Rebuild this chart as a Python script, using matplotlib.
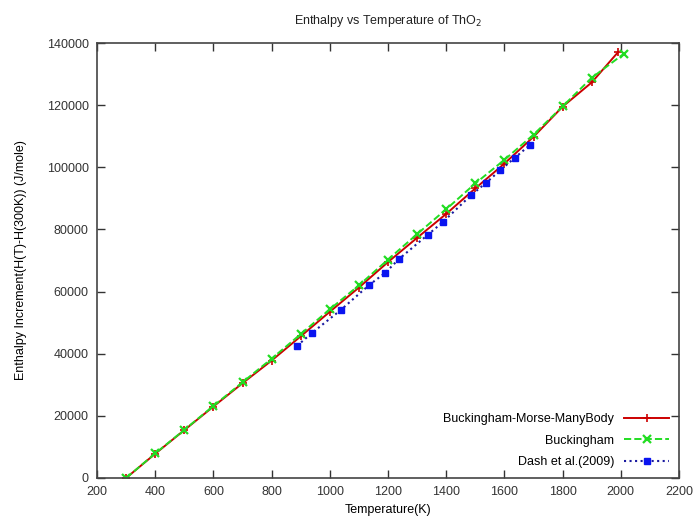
import numpy as np
import matplotlib
matplotlib.use("Agg")
import matplotlib.pyplot as plt

plt.rcParams["font.family"] = ["Liberation Sans", "DejaVu Sans"]

# Buckingham-Morse-ManyBody
bmm_temp = [300, 400, 500, 600, 700, 800, 900, 1000, 1100, 1200, 1300, 1400,
            1500, 1600, 1700, 1800, 1900, 1990]
bmm_h = [0, 7800, 15400, 23000, 30500, 37800, 45600, 53500, 61300, 69500, 77300, 85000,
         93200, 101200, 109800, 119500, 127300, 137000]

# Buckingham
buck_temp = [300, 400, 500, 600, 700, 800, 900, 1000, 1100, 1200, 1300, 1400,
             1500, 1600, 1700, 1800, 1900, 2010]
buck_h = [0, 7900, 15500, 23200, 30800, 38400, 46300, 54300, 62000, 70300, 78500, 86500,
          94800, 102400, 110500, 119600, 128800, 136500]

# Dash et al. (2009)
dash_temp = [887, 939, 1038, 1135, 1190, 1238, 1337, 1389, 1485, 1537, 1585, 1635, 1688]
dash_h = [42500, 46700, 54100, 62100, 66000, 70500, 78300, 82400, 91000, 95000, 99000,
          103000, 107200]

x_ticks = list(range(200, 2201, 200))
y_ticks = list(range(0, 140001, 20000))

fig = plt.figure(figsize=(6.94, 5.24), dpi=100)
ax = fig.add_axes([97 / 694, 1 - 478 / 524, (679 - 97) / 694, (478 - 43) / 524])

ax.plot(bmm_temp, bmm_h, color="#cc0000", linestyle="-", linewidth=1.4,
        marker="+", markersize=6, markeredgewidth=1.2,
        label="Buckingham-Morse-ManyBody")
ax.plot(buck_temp, buck_h, color="#22dd22", linestyle="--", linewidth=1.4,
        marker="x", markersize=5.5, markeredgewidth=1.6, label="Buckingham")
ax.plot(dash_temp, dash_h, color="#1a1aa0", linestyle=":", linewidth=1.5,
        marker="s", markersize=4.5, markerfacecolor="#0a14f0", markeredgecolor="#0a14f0",
        label="Dash et al.(2009)")

ax.set_xlim(200, 2200)
ax.set_ylim(0, 140000)
ax.set_xticks(x_ticks)
ax.set_yticks(y_ticks)
ax.tick_params(direction="in", length=6, width=1, top=True, right=True,
               labelsize=9, colors="#333333", pad=6)
for s in ax.spines.values():
    s.set_color("#444444")
    s.set_linewidth(1.2)

ax.set_title("Enthalpy vs Temperature of ThO$_2$", fontsize=9, pad=14, color="#222222")
ax.set_xlabel("Temperature(K)", fontsize=9, labelpad=4)
ax.set_ylabel("Enthalpy Increment(H(T)-H(300K)) (J/mole)", fontsize=9, labelpad=14)

ax.legend(loc="lower right", frameon=False, markerfirst=False, fontsize=9,
          handlelength=3.6, labelspacing=0.75, borderaxespad=0.4, handletextpad=0.8)

fig.savefig("out.png", dpi=100)
